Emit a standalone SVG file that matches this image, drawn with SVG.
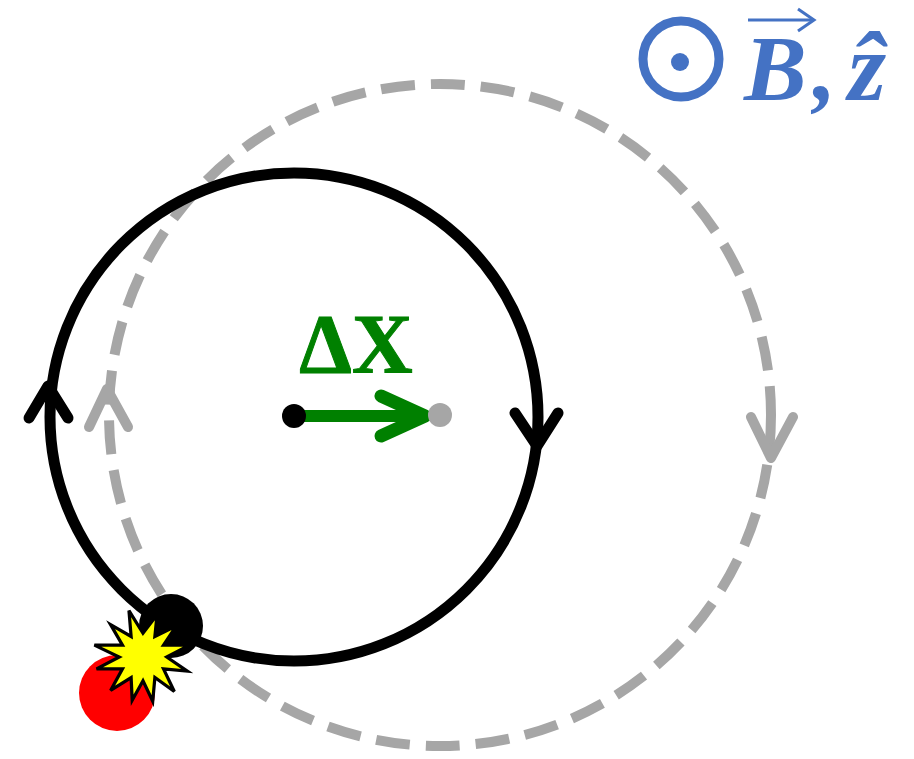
<svg xmlns="http://www.w3.org/2000/svg" width="914" height="759" viewBox="0 0 914 759">
<style>
.blk{fill:none;stroke:#000;stroke-width:11;stroke-linecap:round;stroke-linejoin:round}
.gry{fill:none;stroke:#A6A6A6;stroke-width:10;stroke-linecap:round;stroke-linejoin:round}
.blue{fill:#4472C4;font-family:"Liberation Serif",serif;font-weight:bold;font-style:italic}
</style>
<rect width="914" height="759" fill="#fff"/>
<g id="connectors">
  <circle id="orbit-shifted" cx="440" cy="415" r="331" fill="none" stroke="#A6A6A6" stroke-width="10" stroke-dasharray="34 16"/>
  <circle id="orbit" cx="294" cy="417" r="244" class="blk"/>
  <polyline class="blk" points="29,418 48,386 68,418"/>
  <polyline class="blk" points="515,413 537,446 558,413"/>
  <polyline class="gry" points="89,427 107,389 128,427"/>
  <polyline class="gry" points="751,417 771,458 793,417"/>
  <g id="delta-arrow">
    <line x1="294" y1="416" x2="422" y2="416" stroke="#008000" stroke-width="12"/>
    <polyline points="381,396 425,416 381,436" fill="none" stroke="#008000" stroke-width="13" stroke-linecap="round" stroke-linejoin="round"/>
  </g>
</g>
<g id="center-old"><circle cx="294" cy="416" r="12" fill="#000"/></g>
<g id="center-new"><circle cx="440" cy="415" r="12" fill="#A6A6A6"/></g>
<g id="label-dx"><text x="356" y="373" text-anchor="middle" font-family="'Liberation Serif',serif" font-weight="bold" font-size="84" fill="#008000" stroke="#008000" stroke-width="1">ΔX</text></g>
<g id="particle"><circle cx="171" cy="626" r="32" fill="#000"/></g>
<g id="collider"><circle cx="117" cy="693" r="38" fill="#FF0000"/></g>
<g id="collision">
  <polygon fill="#FFFF00" stroke="#000" stroke-width="3" stroke-linejoin="miter" transform="translate(143,657) scale(1.08) translate(-143,-657)" points="130,614 143,635 156,618 154,638 174,628 162,646 186,646 165,657 184,670 162,668 172,689 154,676 152,698 143,679 133,697 132,676 113,688 124,668 100,668 121,657 98,646 124,646 113,627 132,638"/>
</g>
<g id="legend">
  <circle cx="681" cy="59" r="38" fill="none" stroke="#4472C4" stroke-width="9"/>
  <circle cx="680" cy="62" r="9" fill="#4472C4"/>
  <text class="blue" x="744" y="100" font-size="94">B</text>
  <text class="blue" x="813" y="100" font-size="94">,</text>
  <line x1="748" y1="20" x2="812" y2="20" stroke="#4472C4" stroke-width="3"/>
  <polyline points="798,9 814,20 798,31" fill="none" stroke="#4472C4" stroke-width="3"/>
  <text class="blue" x="848" y="100" font-size="98">ẑ</text>
</g>
</svg>
